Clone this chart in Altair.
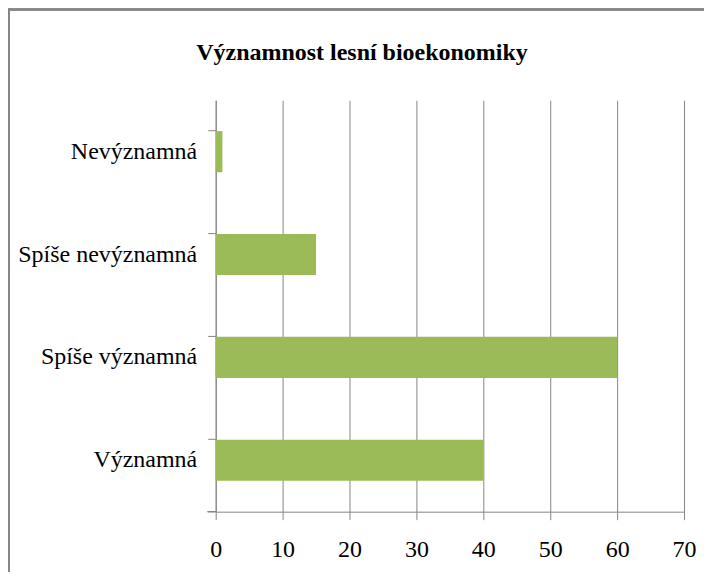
import altair as alt
import pandas as pd

categories = ["Nevýznamná", "Spíše nevýznamná", "Spíše významná", "Významná"]
values = [1, 15, 60, 40]
x_ticks = [0, 10, 20, 30, 40, 50, 60, 70]

df = pd.DataFrame({"kategorie": categories, "hodnota": values})

FONT = "Liberation Serif"
GRAY = "#868686"

W, H = 469, 412

bars = alt.Chart(df).mark_bar(color="#9BBB59").encode(
    x=alt.X(
        "hodnota:Q",
        scale=alt.Scale(domain=[0, 70], nice=False),
        axis=alt.Axis(
            values=x_ticks,
            title=None,
            grid=True,
            labelPadding=18,
            labelFlush=False,
        ),
    ),
    y=alt.Y(
        "kategorie:N",
        sort=categories,
        scale=alt.Scale(paddingInner=0.6, paddingOuter=0.3),
        axis=alt.Axis(
            title=None,
            grid=False,
            bandPosition=0,
            labelPadding=11,
            labelLimit=300,
        ),
    ),
)

corner_tick = alt.Chart(df).mark_rule(color=GRAY, strokeWidth=1).encode(
    x=alt.value(-8), x2=alt.value(0), y=alt.value(H)
)

frame = alt.Chart(df).mark_rect(
    fill=None, stroke=GRAY, strokeWidth=2, clip=False
).encode(
    x=alt.value(-207), x2=alt.value(510), y=alt.value(-91), y2=alt.value(495)
)

chart = (
    alt.layer(frame, bars, corner_tick)
    .properties(
        width=W,
        height=H,
        background="white",
        padding={"left": 208, "top": 92, "right": 20, "bottom": 60},
        autosize=alt.AutoSizeParams(type="none"),
        title=alt.TitleParams(
            "Významnost lesní bioekonomiky",
            anchor="middle",
            frame="group",
            dx=-88,
            offset=0,
            dy=57,
        ),
    )
    .configure_view(stroke=None)
    .configure_axis(
        labelFont=FONT,
        labelFontSize=24,
        labelColor="black",
        domainColor=GRAY,
        tickColor=GRAY,
        tickSize=8,
        gridColor=GRAY,
        gridWidth=1,
        gridOpacity=1,
    )
    .configure_title(
        font=FONT,
        fontSize=24,
        fontWeight="bold",
        color="black",
    )
)

chart.save("out.html", embed_options={"renderer": "svg", "actions": False})
